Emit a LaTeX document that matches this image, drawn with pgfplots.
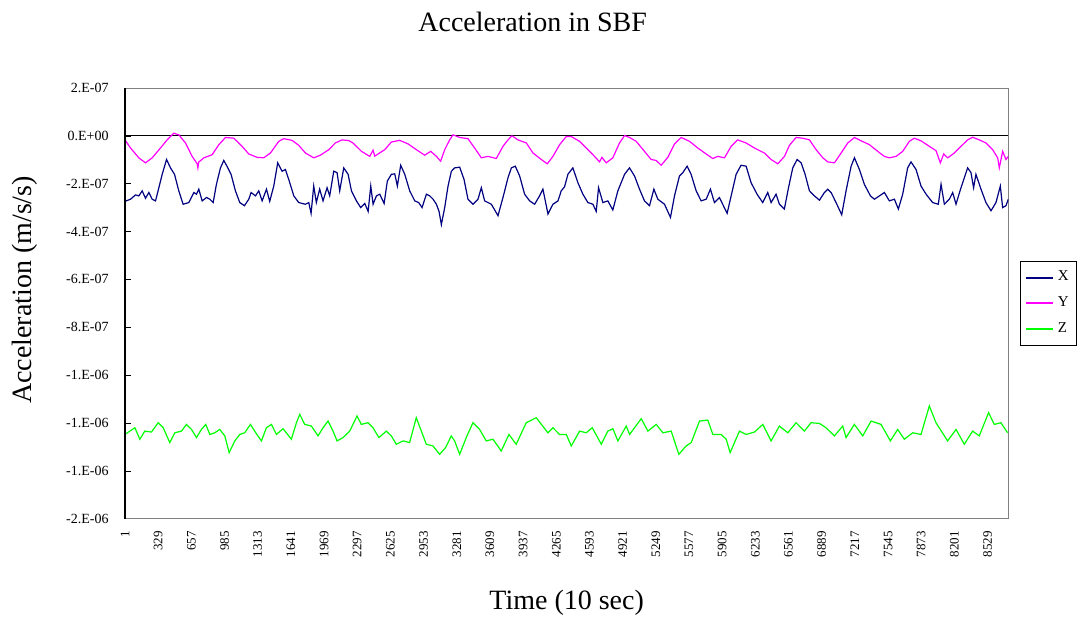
\documentclass[border=0pt]{standalone}
\usepackage{pgfplots}
\usepackage{pgfplotstable}
\pgfplotsset{compat=1.18}
\usepackage{fontspec}
\setmainfont{Liberation Serif}

\definecolor{xnavy}{RGB}{0,0,128}
\definecolor{ymag}{RGB}{255,0,255}
\definecolor{zgreen}{RGB}{0,255,0}

% acceleration X (m/s/s)
\pgfplotstableread{
x y
1 -2.74e-7
56 -2.65e-7
105 -2.47e-7
138 -2.51e-7
171 -2.30e-7
204 -2.61e-7
237 -2.37e-7
270 -2.65e-7
303 -2.72e-7
336 -2.17e-7
369 -1.61e-7
412 -0.99e-7
451 -1.34e-7
491 -1.61e-7
533 -2.30e-7
576 -2.86e-7
632 -2.79e-7
682 -2.37e-7
708 -2.44e-7
731 -2.23e-7
764 -2.72e-7
807 -2.58e-7
840 -2.65e-7
873 -2.79e-7
905 -2.03e-7
945 -1.34e-7
978 -1.03e-7
1018 -1.34e-7
1050 -1.61e-7
1093 -2.30e-7
1136 -2.79e-7
1182 -2.92e-7
1225 -2.65e-7
1248 -2.37e-7
1291 -2.51e-7
1324 -2.30e-7
1357 -2.72e-7
1400 -2.23e-7
1432 -2.74e-7
1472 -2.10e-7
1511 -1.13e-7
1554 -1.48e-7
1587 -1.41e-7
1620 -1.82e-7
1670 -2.51e-7
1719 -2.79e-7
1785 -2.86e-7
1818 -2.79e-7
1841 -3.24e-7
1867 -2.10e-7
1893 -2.79e-7
1926 -2.23e-7
1959 -2.72e-7
1999 -2.17e-7
2025 -2.51e-7
2065 -1.48e-7
2098 -1.54e-7
2124 -2.30e-7
2164 -1.34e-7
2207 -1.61e-7
2240 -2.30e-7
2289 -2.72e-7
2332 -3.00e-7
2372 -2.83e-7
2405 -3.16e-7
2431 -2.10e-7
2454 -2.86e-7
2487 -2.51e-7
2520 -2.44e-7
2563 -2.83e-7
2595 -1.89e-7
2635 -1.61e-7
2668 -1.59e-7
2694 -2.10e-7
2727 -1.23e-7
2767 -1.61e-7
2816 -2.30e-7
2866 -2.72e-7
2905 -2.79e-7
2938 -3.00e-7
2981 -2.44e-7
3014 -2.51e-7
3047 -2.65e-7
3080 -2.86e-7
3106 -3.16e-7
3129 -3.71e-7
3162 -3.00e-7
3195 -2.10e-7
3228 -1.48e-7
3261 -1.34e-7
3310 -1.31e-7
3353 -1.82e-7
3392 -2.65e-7
3442 -2.86e-7
3491 -2.65e-7
3524 -2.17e-7
3557 -2.72e-7
3623 -2.86e-7
3689 -3.34e-7
3738 -2.58e-7
3788 -1.75e-7
3821 -1.34e-7
3860 -1.27e-7
3903 -1.68e-7
3952 -2.44e-7
4002 -2.72e-7
4051 -2.86e-7
4100 -2.51e-7
4133 -2.23e-7
4183 -3.27e-7
4232 -2.86e-7
4282 -2.72e-7
4314 -2.30e-7
4347 -2.13e-7
4380 -1.61e-7
4429 -1.34e-7
4479 -1.96e-7
4528 -2.44e-7
4578 -2.79e-7
4627 -2.86e-7
4660 -3.16e-7
4683 -2.17e-7
4726 -2.79e-7
4775 -2.72e-7
4824 -3.10e-7
4874 -2.30e-7
4940 -1.61e-7
4989 -1.34e-7
5039 -1.68e-7
5088 -2.23e-7
5137 -2.72e-7
5187 -2.92e-7
5230 -2.23e-7
5269 -2.65e-7
5335 -2.86e-7
5394 -3.41e-7
5434 -2.51e-7
5483 -1.68e-7
5516 -1.54e-7
5559 -1.27e-7
5598 -1.61e-7
5648 -2.30e-7
5697 -2.72e-7
5747 -2.65e-7
5789 -2.23e-7
5829 -2.79e-7
5878 -2.58e-7
5954 -3.24e-7
5994 -2.51e-7
6043 -1.61e-7
6092 -1.23e-7
6142 -1.27e-7
6191 -1.96e-7
6250 -2.44e-7
6306 -2.79e-7
6356 -2.37e-7
6389 -2.79e-7
6438 -2.44e-7
6471 -2.86e-7
6520 -3.06e-7
6561 -2.17e-7
6603 -1.34e-7
6646 -0.99e-7
6686 -1.13e-7
6725 -1.61e-7
6768 -2.30e-7
6817 -2.51e-7
6867 -2.69e-7
6916 -2.37e-7
6949 -2.23e-7
6982 -2.37e-7
7031 -2.79e-7
7087 -3.30e-7
7130 -2.30e-7
7180 -1.27e-7
7213 -0.92e-7
7262 -1.41e-7
7311 -2.03e-7
7371 -2.51e-7
7410 -2.65e-7
7460 -2.51e-7
7509 -2.37e-7
7558 -2.72e-7
7608 -2.65e-7
7647 -3.06e-7
7690 -2.44e-7
7739 -1.34e-7
7772 -1.09e-7
7822 -1.41e-7
7871 -2.10e-7
7921 -2.44e-7
7986 -2.79e-7
8042 -2.86e-7
8069 -2.03e-7
8102 -2.86e-7
8151 -2.65e-7
8184 -2.37e-7
8217 -2.86e-7
8266 -2.17e-7
8332 -1.34e-7
8365 -1.54e-7
8391 -2.17e-7
8414 -1.61e-7
8464 -2.23e-7
8513 -2.79e-7
8563 -3.13e-7
8612 -2.79e-7
8655 -2.10e-7
8678 -3.00e-7
8711 -2.92e-7
8734 -2.65e-7
}\dataX

% acceleration Y (m/s/s)
\pgfplotstableread{
x y
1 -0.17e-7
56 -0.51e-7
138 -0.92e-7
204 -1.13e-7
270 -0.92e-7
352 -0.51e-7
418 -0.17e-7
484 0.11e-7
534 0.04e-7
599 -0.30e-7
665 -0.86e-7
715 -1.17e-7
722 -1.34e-7
730 -1.10e-7
781 -0.92e-7
863 -0.79e-7
929 -0.37e-7
995 -0.07e-7
1077 -0.10e-7
1159 -0.44e-7
1225 -0.76e-7
1307 -0.90e-7
1373 -0.92e-7
1439 -0.72e-7
1522 -0.23e-7
1571 -0.12e-7
1653 -0.19e-7
1719 -0.40e-7
1785 -0.72e-7
1867 -0.92e-7
1933 -0.81e-7
2016 -0.58e-7
2081 -0.30e-7
2147 -0.17e-7
2213 -0.20e-7
2256 -0.30e-7
2339 -0.65e-7
2421 -0.86e-7
2454 -0.60e-7
2470 -0.85e-7
2503 -0.76e-7
2569 -0.58e-7
2635 -0.26e-7
2717 -0.19e-7
2800 -0.34e-7
2882 -0.58e-7
2964 -0.81e-7
3024 -0.65e-7
3080 -0.86e-7
3122 -1.06e-7
3162 -0.58e-7
3211 -0.17e-7
3244 0.04e-7
3310 -0.07e-7
3392 -0.12e-7
3458 -0.51e-7
3524 -0.92e-7
3590 -0.86e-7
3672 -0.95e-7
3738 -0.44e-7
3788 -0.17e-7
3827 0.00e-7
3886 -0.17e-7
3969 -0.30e-7
4035 -0.72e-7
4117 -0.99e-7
4176 -1.17e-7
4232 -0.86e-7
4298 -0.37e-7
4364 -0.03e-7
4413 -0.03e-7
4495 -0.23e-7
4578 -0.58e-7
4643 -0.86e-7
4693 -1.09e-7
4716 -0.90e-7
4759 -1.13e-7
4824 -0.92e-7
4890 -0.30e-7
4940 0.01e-7
4989 -0.07e-7
5055 -0.23e-7
5137 -0.65e-7
5203 -0.99e-7
5253 -1.03e-7
5302 -1.23e-7
5368 -0.90e-7
5434 -0.34e-7
5500 -0.07e-7
5582 -0.23e-7
5664 -0.51e-7
5747 -0.76e-7
5812 -0.95e-7
5862 -0.86e-7
5928 -0.92e-7
5994 -0.44e-7
6059 -0.17e-7
6142 -0.30e-7
6224 -0.51e-7
6323 -0.72e-7
6389 -0.99e-7
6455 -1.17e-7
6521 -0.86e-7
6570 -0.40e-7
6636 -0.07e-7
6702 -0.10e-7
6768 -0.17e-7
6834 -0.58e-7
6900 -0.92e-7
6949 -1.09e-7
7015 -1.13e-7
7081 -0.72e-7
7147 -0.30e-7
7213 -0.07e-7
7278 -0.21e-7
7361 -0.37e-7
7443 -0.65e-7
7509 -0.86e-7
7558 -0.92e-7
7624 -0.86e-7
7690 -0.65e-7
7756 -0.23e-7
7805 -0.10e-7
7871 -0.21e-7
7953 -0.44e-7
8019 -0.62e-7
8062 -1.13e-7
8095 -0.76e-7
8135 -0.92e-7
8200 -0.72e-7
8266 -0.44e-7
8332 -0.17e-7
8381 -0.06e-7
8447 -0.17e-7
8513 -0.30e-7
8579 -0.58e-7
8629 -0.92e-7
8645 -1.34e-7
8678 -0.65e-7
8711 -0.99e-7
8734 -0.86e-7
}\dataY

% acceleration Z (m/s/s)
\pgfplotstableread{
x y
1 -12.48e-7
49 -12.34e-7
99 -12.20e-7
148 -12.68e-7
197 -12.34e-7
263 -12.38e-7
329 -11.99e-7
379 -12.20e-7
444 -12.82e-7
494 -12.41e-7
560 -12.34e-7
609 -12.06e-7
659 -12.27e-7
708 -12.61e-7
757 -12.27e-7
800 -12.06e-7
840 -12.48e-7
889 -12.41e-7
938 -12.27e-7
988 -12.54e-7
1031 -13.24e-7
1087 -12.75e-7
1136 -12.48e-7
1185 -12.41e-7
1241 -12.06e-7
1294 -12.41e-7
1350 -12.75e-7
1399 -12.20e-7
1449 -12.06e-7
1498 -12.48e-7
1564 -12.24e-7
1646 -12.68e-7
1696 -11.99e-7
1729 -11.64e-7
1778 -12.06e-7
1844 -12.13e-7
1910 -12.54e-7
1959 -12.20e-7
2009 -11.92e-7
2058 -12.34e-7
2098 -12.75e-7
2157 -12.61e-7
2223 -12.34e-7
2295 -11.71e-7
2338 -12.06e-7
2404 -11.99e-7
2453 -12.20e-7
2512 -12.61e-7
2585 -12.34e-7
2634 -12.54e-7
2684 -12.89e-7
2750 -12.75e-7
2815 -12.82e-7
2881 -11.78e-7
2931 -12.34e-7
2980 -12.89e-7
3046 -12.96e-7
3112 -13.31e-7
3171 -13.03e-7
3227 -12.54e-7
3260 -12.75e-7
3310 -13.31e-7
3375 -12.61e-7
3441 -11.99e-7
3507 -12.27e-7
3573 -12.75e-7
3639 -12.68e-7
3721 -13.17e-7
3797 -12.48e-7
3869 -12.89e-7
3968 -11.99e-7
4067 -11.78e-7
4182 -12.41e-7
4232 -12.20e-7
4297 -12.48e-7
4364 -12.48e-7
4413 -12.96e-7
4496 -12.34e-7
4561 -12.41e-7
4621 -12.20e-7
4710 -12.89e-7
4775 -12.34e-7
4825 -12.24e-7
4874 -12.75e-7
4957 -12.13e-7
4990 -12.48e-7
5105 -11.82e-7
5171 -12.34e-7
5253 -12.06e-7
5319 -12.41e-7
5401 -12.34e-7
5477 -13.31e-7
5549 -12.96e-7
5599 -12.82e-7
5681 -11.92e-7
5763 -11.88e-7
5813 -12.48e-7
5895 -12.48e-7
5945 -12.68e-7
5984 -13.24e-7
6076 -12.34e-7
6142 -12.48e-7
6224 -12.38e-7
6307 -12.06e-7
6389 -12.75e-7
6471 -12.13e-7
6554 -12.41e-7
6636 -11.99e-7
6718 -12.34e-7
6784 -11.99e-7
6867 -12.02e-7
6932 -12.20e-7
7015 -12.54e-7
7097 -12.13e-7
7130 -12.61e-7
7212 -12.06e-7
7295 -12.54e-7
7377 -11.92e-7
7476 -12.06e-7
7568 -12.75e-7
7640 -12.27e-7
7706 -12.68e-7
7789 -12.41e-7
7871 -12.48e-7
7953 -11.29e-7
8019 -11.99e-7
8134 -12.75e-7
8217 -12.27e-7
8299 -12.89e-7
8381 -12.34e-7
8447 -12.54e-7
8539 -11.57e-7
8595 -12.06e-7
8661 -11.99e-7
8727 -12.41e-7
}\dataZ

\begin{document}
\begin{tikzpicture}
\begin{axis}[
    name=ax,
    scale only axis,
    width=442pt,
    height=215.5pt,
    xmin=0.5, xmax=8735,
    ymin=-1.6e-6, ymax=2e-7,
    scaled y ticks=false,
    scaled x ticks=false,
    axis line style={draw=gray},
    /pgf/number format/1000 sep={},
    /pgf/number format/assume math mode=true,
    xtick={1,329,...,8529},
    xtick style={draw=none},
    xticklabel style={font=\fontsize{6.5}{7}\selectfont, yshift=-6pt, rotate=90, anchor=east, inner sep=0pt},
    ytick={-1.6e-6,-1.4e-6,-1.2e-6,-1e-6,-8e-7,-6e-7,-4e-7,-2e-7,0,2e-7},
    yticklabels={-2.E-06,-1.E-06,-1.E-06,-1.E-06,-8.E-07,-6.E-07,-4.E-07,-2.E-07,0.E+00,2.E-07},
    yticklabel style={font=\fontsize{7}{8}\selectfont, anchor=east, inner sep=0pt, xshift=-8pt},
    ytick pos=left,
    ytick style={draw=black},
    tick align=inside,
    major tick length=3pt,
    extra y ticks={0},
    extra y tick labels={},
    extra y tick style={grid=major, major grid style={black, line width=0.6pt}, tick style={draw=none}},
    title={Acceleration in SBF},
    title style={font=\fontsize{14}{16}\selectfont, at={(axis description cs:0.4615,1.125)}, anchor=center},
    xlabel={Time (10 sec)},
    xlabel style={font=\fontsize{14}{16}\selectfont, at={(axis description cs:0.5,-0.195)}, anchor=center},
    ylabel={Acceleration (m/s/s)},
    ylabel style={font=\fontsize{14}{16}\selectfont, at={(axis description cs:-0.113,0.531)}, anchor=center, rotate=0},
    legend style={at={(1,0.5)}, anchor=west, xshift=6pt, draw=black,
        font=\fontsize{7.5}{8}\selectfont, row sep=2.5pt, inner xsep=2pt, inner ysep=3pt},
    legend cell align=left,
    legend image code/.code={\draw[#1, line width=1pt] (0pt,0pt) -- (13.5pt,0pt);},
]
\addplot[xnavy, line width=0.6pt] table[x=x, y=y] {\dataX};
\addlegendentry{X}
\addplot[ymag, line width=0.6pt] table[x=x, y=y] {\dataY};
\addlegendentry{Y}
\addplot[zgreen, line width=0.6pt] table[x=x, y=y] {\dataZ};
\addlegendentry{Z}
\end{axis}
\draw[black, line width=0.6pt] (ax.south west) -- (ax.north west);
\path (ax.south west) ++(-62.5pt,-53pt) rectangle ([shift={(34pt,44pt)}]ax.north east);
\end{tikzpicture}
\end{document}
